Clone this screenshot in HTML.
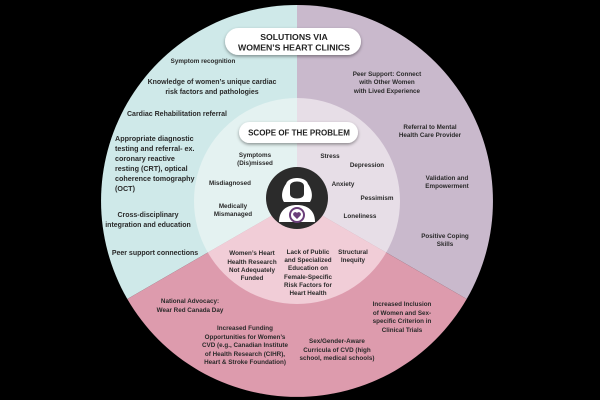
<!DOCTYPE html>
<html><head><meta charset="utf-8"><style>
html,body{margin:0;padding:0;background:#000;width:600px;height:400px;overflow:hidden}
svg{display:block}
text{font-family:"Liberation Sans",sans-serif;font-weight:bold;fill:#2a2a2a;text-anchor:middle;font-size:6.3px}
.l{text-anchor:start;font-size:7.2px}
.m{font-size:7px}
.t{font-size:8.7px;fill:#222}
.s{font-size:8px;fill:#222}
</style></head><body>
<svg width="600" height="400" viewBox="0 0 600 400">
<rect width="600" height="400" fill="#000"/>
<defs><filter id="sh" x="-20%" y="-40%" width="140%" height="180%"><feDropShadow dx="0" dy="1.5" stdDeviation="1.5" flood-color="#000" flood-opacity="0.4"/></filter></defs>
<path d="M297,201 L297,5 A196,196 0 0 0 127.3,299 Z" fill="#cfe9e9"/>
<path d="M297,201 L297,5 A196,196 0 0 1 466.7,299 Z" fill="#c9b9cc"/>
<path d="M297,201 L127.3,299 A196,196 0 0 0 466.7,299 Z" fill="#dd9bad"/>
<path d="M297,201 L297,98 A103,103 0 0 0 207.8,252.5 Z" fill="#e4f2f1"/>
<path d="M297,201 L297,98 A103,103 0 0 1 386.2,252.5 Z" fill="#e7dee7"/>
<path d="M297,201 L207.8,252.5 A103,103 0 0 0 386.2,252.5 Z" fill="#f1cdd7"/>
<rect x="225" y="28" width="136" height="27" rx="13.5" fill="#fff" filter="url(#sh)"/>
<text class="t" x="294" y="40">SOLUTIONS VIA</text>
<text class="t" x="294" y="50.5">WOMEN’S HEART CLINICS</text>
<rect x="239" y="122" width="119" height="21" rx="10.5" fill="#fff" filter="url(#sh)"/>
<text class="s" x="299" y="135.5">SCOPE OF THE PROBLEM</text>
<circle cx="297" cy="198" r="31" fill="#2b2b2b"/>
<path d="M284,202 C280,196 283,188 286,184 C288,176 306,176 308,184 C311,188 314,196 310,202 Z" fill="#fff"/>
<path d="M290,186 C290,180 304,180 304,186 L304,194 C304,200 290,200 290,194 Z" fill="#2b2b2b"/>
<path d="M279,222 C279,210 287,205 297,205 C307,205 315,210 315,222 Z" fill="#fff"/>
<circle cx="297" cy="215" r="7" fill="#fff" stroke="#6b3f7a" stroke-width="2"/>
<path d="M297,219 L293.5,215.5 A2,2 0 0 1 297,213 A2,2 0 0 1 300.5,215.5 Z" fill="#6b3f7a"/>
<text x="203" y="63">Symptom recognition</text>
<text class="m" x="212" y="84">Knowledge of women’s unique cardiac</text>
<text class="m" x="212" y="94">risk factors and pathologies</text>
<text class="m" x="177" y="116">Cardiac Rehabilitation referral</text>
<text class="l" x="115" y="141">Appropriate diagnostic</text>
<text class="l" x="115" y="151">testing and referral- ex.</text>
<text class="l" x="115" y="161">coronary reactive</text>
<text class="l" x="115" y="171">resting (CRT), optical</text>
<text class="l" x="115" y="181">coherence tomography</text>
<text class="l" x="115" y="191">(OCT)</text>
<text class="m" x="148" y="217">Cross-disciplinary</text>
<text class="m" x="148" y="227">integration and education</text>
<text class="m" x="155" y="255">Peer support connections</text>
<text x="387" y="76">Peer Support: Connect</text>
<text x="387" y="84">with Other Women</text>
<text x="387" y="93">with Lived Experience</text>
<text x="430" y="129">Referral to Mental</text>
<text x="430" y="137">Health Care Provider</text>
<text x="447" y="180">Validation and</text>
<text x="447" y="188">Empowerment</text>
<text x="445" y="238">Positive Coping</text>
<text x="445" y="246">Skills</text>
<text x="255" y="157">Symptoms</text>
<text x="255" y="165">(Dis)missed</text>
<text x="230" y="185">Misdiagnosed</text>
<text x="233" y="208">Medically</text>
<text x="233" y="216">Mismanaged</text>
<text x="330" y="158">Stress</text>
<text x="367" y="167">Depression</text>
<text x="343" y="186">Anxiety</text>
<text x="377" y="200">Pessimism</text>
<text x="360" y="218">Loneliness</text>
<text x="252" y="255">Women’s Heart</text>
<text x="252" y="264">Health Research</text>
<text x="252" y="272">Not Adequately</text>
<text x="252" y="280">Funded</text>
<text x="308" y="254">Lack of Public</text>
<text x="308" y="262">and Specialized</text>
<text x="308" y="270">Education on</text>
<text x="308" y="279">Female-Specific</text>
<text x="308" y="287">Risk Factors for</text>
<text x="308" y="295">Heart Health</text>
<text x="353" y="254">Structural</text>
<text x="353" y="262">Inequity</text>
<text x="190" y="303">National Advocacy:</text>
<text x="190" y="312">Wear Red Canada Day</text>
<text x="245" y="330">Increased Funding</text>
<text x="245" y="339">Opportunities for Women’s</text>
<text x="245" y="347">CVD (e.g., Canadian Institute</text>
<text x="245" y="356">of Health Research (CIHR),</text>
<text x="245" y="364">Heart &amp; Stroke Foundation)</text>
<text x="337" y="343">Sex/Gender-Aware</text>
<text x="337" y="352">Curricula of CVD (high</text>
<text x="337" y="360">school, medical schools)</text>
<text x="402" y="306">Increased Inclusion</text>
<text x="402" y="315">of Women and Sex-</text>
<text x="402" y="323">specific Criterion in</text>
<text x="402" y="332">Clinical Trials</text>
</svg>
</body></html>
